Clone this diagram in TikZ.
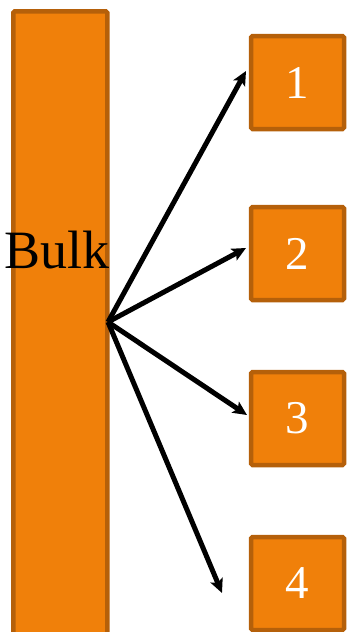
\documentclass[tikz,border=0pt]{standalone}
\usepackage{fontspec}
\setmainfont{Liberation Serif}
\usetikzlibrary{arrows.meta}
\definecolor{boxfill}{HTML}{F0800A}
\definecolor{boxline}{HTML}{B5600A}
\begin{document}
\begin{tikzpicture}[x=1pt,y=-1pt,
  orangebox/.style={draw=boxline,fill=boxfill,line width=4.5pt,rounded corners=1.5pt,inner sep=0pt},
  numbox/.style={orangebox,minimum width=93pt,minimum height=93pt,text=white,font=\fontsize{47}{47}\selectfont},
  arr/.style={line width=5pt,-{Stealth[length=14pt,width=13pt,inset=3pt]}}]
\useasboundingbox (0,0) rectangle (349,632);
\node[orangebox,minimum width=94pt,minimum height=660pt,anchor=north west] (bulk) at (11,9) {};
\node[font=\fontsize{54}{54}\selectfont,text=black] (bulktext) at (57,250) {Bulk};
\node[numbox] (b1) at (297.5,82.5) {1};
\node[numbox] (b2) at (297.5,253.5) {2};
\node[numbox] (b3) at (297.5,418.5) {3};
\node[numbox] (b4) at (297.5,583.5) {4};
\coordinate (o) at (108,322);
\coordinate (t1) at (246,71);
\coordinate (t2) at (246,248);
\coordinate (t3) at (247,415);
\coordinate (t4) at (222,593);
\draw[arr] (o) -- (t1);
\draw[arr] (o) -- (t2);
\draw[arr] (o) -- (t3);
\draw[arr] (o) -- (t4);
\end{tikzpicture}
\end{document}
